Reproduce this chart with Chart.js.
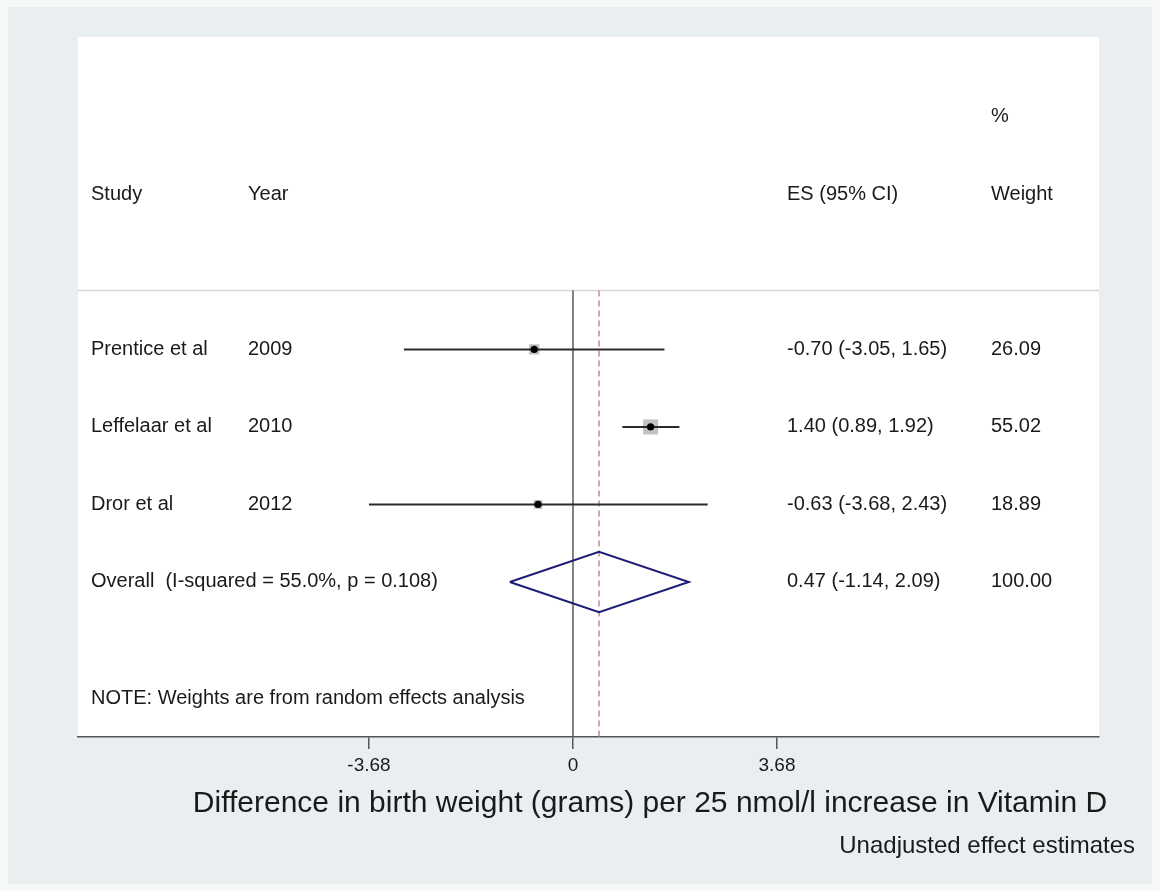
<!DOCTYPE html>
<html>
<head>
<meta charset="utf-8">
<script src="https://cdn.jsdelivr.net/npm/chart.js@4.4.1/dist/chart.umd.min.js"></script>
<style>
html,body{margin:0;padding:0;background:#f7f9f9;}
canvas{display:block;}
</style>
</head>
<body>
<canvas id="c" width="1160" height="891" style="width:1160px;height:891px"></canvas>
<script>
// ---- data ----
const studies = ['Prentice et al', 'Leffelaar et al', 'Dror et al'];
const years = ['2009', '2010', '2012'];
const es = [-0.70, 1.40, -0.63];
const ciLow = [-3.05, 0.89, -3.68];
const ciHigh = [1.65, 1.92, 2.43];
const weights = [26.09, 55.02, 18.89];
const pooledLabel = 'Overall  (I-squared = 55.0%, p = 0.108)';
const pooledES = 0.47;
const pooledLow = -1.14;
const pooledHigh = 2.09;
const pooledWeight = 100.00;
const noteText = 'NOTE: Weights are from random effects analysis';
const tickValues = [-3.68, 0, 3.68];
const tickLabels = ['-3.68', '0', '3.68'];
const axisTitle = 'Difference in birth weight (grams) per 25 nmol/l increase in Vitamin D';
const subTitle = 'Unadjusted effect estimates';

// ---- layout (rows on the y scale) ----
const studyRows = studies.map((s, i) => 4 + i);
const pooledRow = 4 + studies.length;
const headerRow = 2, pctRow = 1, sepRow = 3.24, noteRow = 8.5;
const yMin = -0.03, yMax = 9.0;
const diamondHalf = 0.39;
const FONT = '"Liberation Sans", Arial, Helvetica, sans-serif';
const fmt = v => v.toFixed(2);

const ciDatasets = studies.map((s, i) => ({
  label: 'ci-' + s,
  data: [{x: ciLow[i], y: studyRows[i]}, {x: ciHigh[i], y: studyRows[i]}],
  showLine: true, borderColor: '#2b2b2b', borderWidth: 2,
  pointRadius: 0, order: 2
}));

const datasets = [
  { label: 'zero', data: [{x: 0, y: sepRow}, {x: 0, y: yMax}],
    showLine: true, borderColor: '#5a5a5a', borderWidth: 1.5, pointRadius: 0, order: 6 },
  { label: 'pooled-line', data: [{x: pooledES, y: sepRow}, {x: pooledES, y: yMax}],
    showLine: true, borderColor: '#c48c8c', borderWidth: 1.5, borderDash: [6, 4], pointRadius: 0, order: 5 },
  { label: 'boxes', data: studies.map((s, i) => ({x: es[i], y: studyRows[i]})),
    pointStyle: 'rect', backgroundColor: '#c2c2c2', borderWidth: 0,
    pointRadius: ctx => 1.43 * Math.sqrt(weights[ctx.dataIndex] || 0), order: 3 },
  ...ciDatasets,
  { label: 'points', data: studies.map((s, i) => ({x: es[i], y: studyRows[i]})),
    pointStyle: 'circle', backgroundColor: '#000', borderColor: '#000', borderWidth: 0,
    pointRadius: 3.6, order: 1 },
  { label: 'diamond', data: [
      {x: pooledLow, y: pooledRow}, {x: pooledES, y: pooledRow - diamondHalf},
      {x: pooledHigh, y: pooledRow}, {x: pooledES, y: pooledRow + diamondHalf},
      {x: pooledLow, y: pooledRow}],
    showLine: true, borderColor: '#1d1d78', borderWidth: 2, pointRadius: 0, fill: false,
    tension: 0, order: 1 }
];

const bgPlugin = {
  id: 'bg',
  beforeDraw(chart) {
    const ctx = chart.ctx, a = chart.chartArea;
    ctx.save();
    ctx.fillStyle = '#f7f9f9';
    ctx.fillRect(0, 0, chart.width, chart.height);
    ctx.fillStyle = '#e9eef0';
    ctx.fillRect(8, 7, 1144, 877);
    ctx.fillStyle = '#ffffff';
    ctx.fillRect(a.left, a.top, a.right - a.left, a.bottom - a.top);
    // separator line under header
    const ys = chart.scales.y.getPixelForValue(sepRow);
    ctx.strokeStyle = '#d6d6d6';
    ctx.lineWidth = 1.5;
    ctx.beginPath();
    ctx.moveTo(a.left, ys);
    ctx.lineTo(a.right, ys);
    ctx.stroke();
    ctx.restore();
  }
};

const textPlugin = {
  id: 'texts',
  afterDraw(chart) {
    const ctx = chart.ctx, y = chart.scales.y;
    const colStudy = 91, colYear = 248, colES = 787, colW = 991;
    ctx.save();
    ctx.fillStyle = '#1a1a1a';
    ctx.textBaseline = 'middle';
    ctx.textAlign = 'left';
    ctx.font = '20px ' + FONT;
    ctx.fillText('%', colW, y.getPixelForValue(pctRow));
    const hy = y.getPixelForValue(headerRow);
    ctx.fillText('Study', colStudy, hy);
    ctx.fillText('Year', colYear, hy);
    ctx.fillText('ES (95% CI)', colES, hy);
    ctx.fillText('Weight', colW, hy);
    studies.forEach((s, i) => {
      const py = y.getPixelForValue(studyRows[i]);
      ctx.fillText(s, colStudy, py);
      ctx.fillText(years[i], colYear, py);
      ctx.fillText(fmt(es[i]) + ' (' + fmt(ciLow[i]) + ', ' + fmt(ciHigh[i]) + ')', colES, py);
      ctx.fillText(fmt(weights[i]), colW, py);
    });
    const oy = y.getPixelForValue(pooledRow);
    ctx.fillText(pooledLabel, colStudy, oy);
    ctx.fillText(fmt(pooledES) + ' (' + fmt(pooledLow) + ', ' + fmt(pooledHigh) + ')', colES, oy);
    ctx.fillText(fmt(pooledWeight), colW, oy);
    ctx.fillText(noteText, colStudy, y.getPixelForValue(noteRow));
    // axis titles
    ctx.textAlign = 'center';
    ctx.font = '30px ' + FONT;
    ctx.fillText(axisTitle, 650, 804);
    ctx.textAlign = 'right';
    ctx.font = '24px ' + FONT;
    ctx.fillText(subTitle, 1135, 846);
    ctx.restore();
  }
};

new Chart(document.getElementById('c'), {
  type: 'scatter',
  data: { datasets },
  options: {
    responsive: false,
    animation: false,
    devicePixelRatio: 1,
    events: [],
    layout: { padding: { left: 78, right: 61, top: 37, bottom: 0 } },
    plugins: { legend: { display: false }, tooltip: { enabled: false }, title: { display: false } },
    scales: {
      x: {
        type: 'linear', min: -8.93, max: 9.49,
        afterBuildTicks: scale => { scale.ticks = tickValues.map(v => ({ value: v })); },
        afterFit: scale => { scale.height = 154; },
        grid: { display: true, drawOnChartArea: false, drawTicks: true, tickLength: 12, color: '#555', lineWidth: 1.5 },
        border: { display: true, color: '#555', width: 1.5 },
        ticks: {
          autoSkip: false, maxRotation: 0, padding: 5, color: '#1a1a1a',
          font: { family: FONT, size: 19 },
          callback: (v, i) => tickLabels[i]
        }
      },
      y: { type: 'linear', display: false, reverse: true, min: yMin, max: yMax }
    }
  },
  plugins: [bgPlugin, textPlugin]
});
</script>
</body>
</html>
